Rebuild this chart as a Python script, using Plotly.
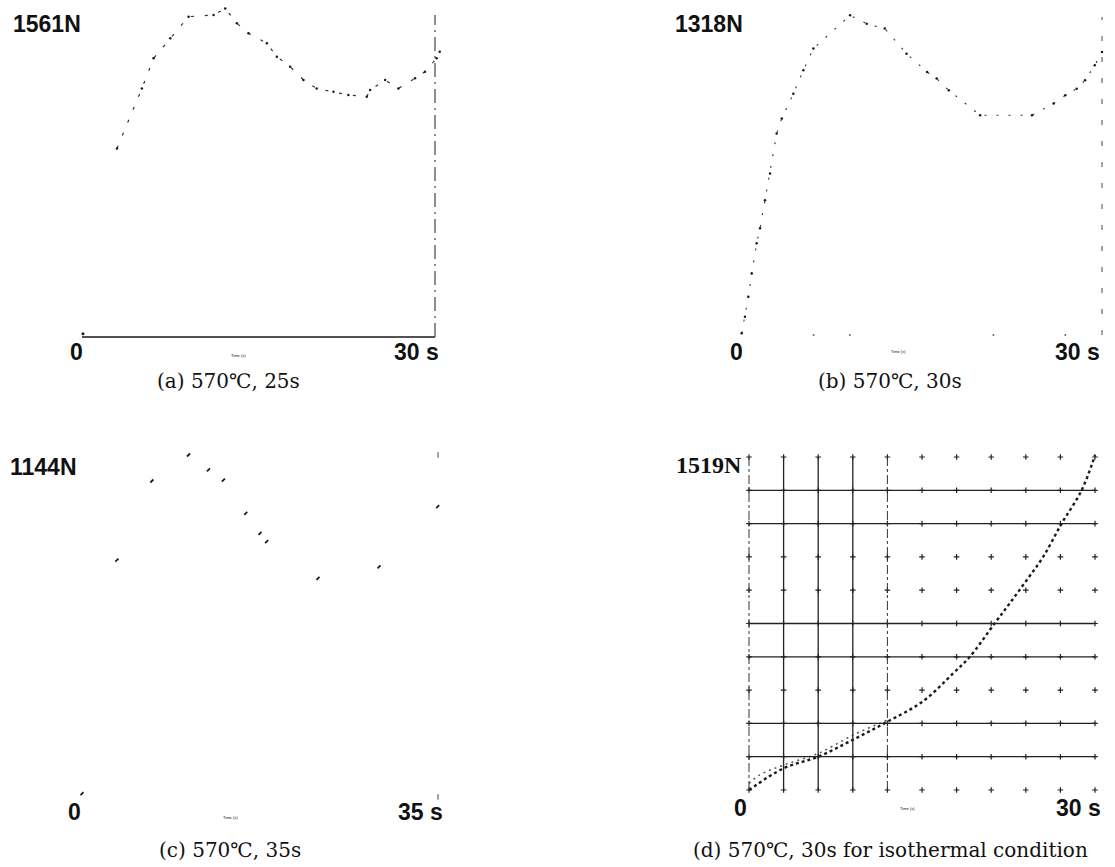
import plotly.graph_objects as go

W, H = 1115, 867
INK = "#1a1a1a"

# ---------------- data ----------------
# (a) 570℃, 25s   time [s], force [N]
A_T = [0.08, 2.97, 5.09, 6.08, 7.5, 9.06, 11.18, 12.17, 13.16, 14.15, 15.71, 16.56,
       17.69, 18.82, 19.95, 21.37, 22.64, 24.2, 24.48, 25.76, 26.89, 28.3, 29.15, 30.14, 30.4]
A_F = [16, 914, 1205, 1351, 1448, 1553, 1561, 1593, 1521, 1472, 1424, 1359,
       1310, 1246, 1205, 1189, 1173, 1165, 1197, 1246, 1205, 1254, 1286, 1351, 1383]
A_MAX = 1561
A_TMAX = 30

# (b) 570℃, 30s
B_T = [0.14, 0.41, 0.69, 0.97, 1.38, 1.66, 2.07, 2.49, 3.04, 3.46, 4.42, 5.25, 6.08,
       9.12, 10.5, 12.0, 13.8, 15.5, 16.3, 17.3, 19.9, 24.2, 25.99, 26.96, 27.9, 28.6, 29.4, 30.0]
B_F = [7, 76, 159, 255, 380, 442, 559, 669, 835, 897, 1000, 1097, 1187,
       1325, 1290, 1270, 1166, 1090, 1063, 1014, 911, 911, 959, 994, 1021, 1056, 1118, 1173]
B_MAX = 1318
B_TMAX = 30
B_AXIS_T = [6.1, 9.1, 21.0, 26.96]

# (c) 570℃, 35s
C_T = [0.0, 3.43, 6.87, 10.47, 12.43, 13.9, 16.1, 17.5, 18.15, 23.2, 29.2, 34.97]
C_F = [11, 792, 1057, 1144, 1094, 1060, 949, 882, 854, 731, 770, 971]
C_MAX = 1144
C_TMAX = 35

# (d) 570℃, 30s for isothermal condition
D_T = [0.0, 3.0, 6.0, 8.97, 11.98, 15.04, 17.7, 19.15, 21.3, 22.6, 24.07, 25.5, 27.1, 28.84, 30.0]
D_F = [0, 99, 152, 228, 311, 403, 532, 608, 760, 851, 957, 1063, 1215, 1367, 1527]
D_T2 = [0.0, 0.9, 3.0, 6.0, 9.0, 12.0]
D_F2 = [30, 68, 114, 167, 250, 319]
D_MAX = 1519
D_TMAX = 30
D_DIV = 10
D_SOLID_Y_DIV = [1, 2, 4, 5, 8, 9]
D_SOLID_X_DIV = [1, 2, 3]
D_DASHDOT_X_DIV = [0, 4]

CAPTIONS = ["(a) 570℃, 25s", "(b) 570℃, 30s", "(c) 570℃, 35s",
            "(d) 570℃, 30s for isothermal condition"]
LABELS = [f"{A_MAX}N", f"{B_MAX}N", f"{C_MAX}N", f"{D_MAX}N"]
END_LABELS = [f"{A_TMAX} s", f"{B_TMAX} s", f"{C_TMAX} s", f"{D_TMAX} s"]

# ---------------- layout helpers ----------------
def xdom(p0, p1, v0, v1, r0, r1):
    f = lambda v: p0 + (v - v0) * (p1 - p0) / (v1 - v0)
    return [f(r0) / W, f(r1) / W]

def ydom(p0, p1, v0, v1, r0, r1):
    f = lambda v: p0 + (v - v0) * (p1 - p0) / (v1 - v0)
    return [1 - f(r0) / H, 1 - f(r1) / H]

panels = [
    dict(px=(82, 435), py=(337, 15), tmax=A_TMAX, fmax=A_MAX, xr=[-1, 31.5], yr=[-30, 1620]),
    dict(px=(740, 1102), py=(335, 17), tmax=B_TMAX, fmax=B_MAX, xr=[-1, 31], yr=[-30, 1380]),
    dict(px=(82, 438), py=(797, 455), tmax=C_TMAX, fmax=C_MAX, xr=[-1, 36], yr=[-30, 1200]),
    dict(px=(749, 1095), py=(790, 457), tmax=D_TMAX, fmax=D_MAX, xr=[-1, 31.5], yr=[-40, 1600]),
]

fig = go.Figure()
layout = dict(width=W, height=H, margin=dict(l=0, r=0, t=0, b=0),
              paper_bgcolor="white", plot_bgcolor="rgba(0,0,0,0)", showlegend=False)
for i, p in enumerate(panels, start=1):
    s = "" if i == 1 else str(i)
    layout["xaxis" + s] = dict(domain=xdom(p["px"][0], p["px"][1], 0, p["tmax"], *p["xr"]),
                               range=p["xr"], visible=False, anchor="y" + s)
    layout["yaxis" + s] = dict(domain=ydom(p["py"][0], p["py"][1], 0, p["fmax"], *p["yr"]),
                               range=p["yr"], visible=False, anchor="x" + s)
fig.update_layout(**layout)

# ---------------- panel (a) ----------------
fig.add_trace(go.Scatter(x=[0, A_TMAX], y=[0, 0], mode="lines", xaxis="x", yaxis="y",
                         line=dict(color=INK, width=1.5)))
fig.add_trace(go.Scatter(x=[A_TMAX, A_TMAX], y=[0, A_MAX], mode="lines", xaxis="x", yaxis="y",
                         line=dict(color="#444", width=1.2, dash="14px,5px,2px,5px")))
fig.add_trace(go.Scatter(x=A_T[1:], y=A_F[1:], mode="lines+markers", xaxis="x", yaxis="y",
                         line=dict(color="#333", width=1.2, dash="3px,11px"),
                         marker=dict(size=2.5, color=INK)))
fig.add_trace(go.Scatter(x=A_T[:1], y=A_F[:1], mode="markers", xaxis="x", yaxis="y",
                         marker=dict(size=3, color=INK)))

# ---------------- panel (b) ----------------
fig.add_trace(go.Scatter(x=[B_TMAX, B_TMAX], y=[0, B_MAX], mode="lines", xaxis="x2", yaxis="y2",
                         line=dict(color="#444", width=1, dash="5px,16px")))
fig.add_trace(go.Scatter(x=B_AXIS_T, y=[0] * len(B_AXIS_T), mode="markers", xaxis="x2", yaxis="y2",
                         marker=dict(size=2, color="#666")))
fig.add_trace(go.Scatter(x=B_T, y=B_F, mode="lines+markers", xaxis="x2", yaxis="y2",
                         line=dict(color="#333", width=1.1, dash="2px,10px"),
                         marker=dict(size=2.5, color=INK)))

# ---------------- panel (c) ----------------
fig.add_trace(go.Scatter(x=C_T, y=C_F, mode="markers", xaxis="x3", yaxis="y3",
                         marker=dict(size=3, color=INK, symbol="line-ne",
                                     line=dict(width=1.8, color=INK))))
fig.add_trace(go.Scatter(x=[C_TMAX, C_TMAX], y=[0, C_MAX], mode="markers", xaxis="x3", yaxis="y3",
                         marker=dict(size=4, color="#444", symbol="line-ns",
                                     line=dict(width=1, color="#444"))))

# ---------------- panel (d) grid ----------------
dx = D_TMAX / D_DIV
dy = D_MAX / D_DIV
shapes = []
for k in D_SOLID_Y_DIV:
    shapes.append(dict(type="line", xref="x4", yref="y4", x0=0, x1=D_TMAX, y0=k * dy, y1=k * dy,
                       line=dict(color="#222", width=1.3)))
for k in D_SOLID_X_DIV:
    shapes.append(dict(type="line", xref="x4", yref="y4", x0=k * dx, x1=k * dx, y0=0, y1=D_MAX,
                       line=dict(color="#222", width=1.3)))
for k in D_DASHDOT_X_DIV:
    shapes.append(dict(type="line", xref="x4", yref="y4", x0=k * dx, x1=k * dx, y0=0, y1=D_MAX,
                       line=dict(color="#333", width=1, dash="dashdot")))
fig.update_layout(shapes=shapes)

gx, gy = [], []
for i in range(D_DIV + 1):
    for j in range(D_DIV + 1):
        gx.append(i * dx)
        gy.append(j * dy)
fig.add_trace(go.Scatter(x=gx, y=gy, mode="markers", xaxis="x4", yaxis="y4",
                         marker=dict(size=4, symbol="cross-thin", color="#222",
                                     line=dict(width=1.2, color="#222"))))
fig.add_trace(go.Scatter(x=D_T2, y=D_F2, mode="lines", xaxis="x4", yaxis="y4",
                         line=dict(color="#555", width=1.5, dash="2px,4px", shape="spline")))
fig.add_trace(go.Scatter(x=D_T, y=D_F, mode="lines", xaxis="x4", yaxis="y4",
                         line=dict(color=INK, width=2.4, dash="3px,3px", shape="spline")))

# ---------------- texts ----------------
def ann(text, px, py, size, family, bold=False, xanchor="center"):
    fig.add_annotation(text=f"<b>{text}</b>" if bold else text, x=px / W, y=1 - py / H,
                       xref="paper", yref="paper", showarrow=False, xanchor=xanchor,
                       yanchor="middle", font=dict(size=size, family=family, color="#111"))

SANS = "Liberation Sans"
SERIF = "DejaVu Serif"
label_pos = [(11, 24), (673, 24), (8, 467), (674, 465)]
zero_pos = [(76, 352), (736, 352), (74, 812), (740, 808)]
end_pos = [(416, 352), (1077, 352), (420, 812), (1078, 808)]
cap_pos = [(228, 381), (890, 381), (230, 850), (890, 850)]
time_pos = [(238, 355), (898, 352), (230, 817), (907, 808)]
label_fonts = [SANS, SANS, SANS, "Liberation Serif"]
label_sizes = [23, 23, 23, 24]
for k in range(4):
    ann(LABELS[k], label_pos[k][0], label_pos[k][1], label_sizes[k], label_fonts[k],
        bold=True, xanchor="left")
    ann("0", zero_pos[k][0], zero_pos[k][1], 23, SANS, bold=True)
    ann(END_LABELS[k], end_pos[k][0], end_pos[k][1], 23, SANS, bold=True)
    ann(CAPTIONS[k], cap_pos[k][0], cap_pos[k][1], 20, SERIF)
    ann("Time (s)", time_pos[k][0], time_pos[k][1], 4, SANS)

fig.write_html("out.html")
